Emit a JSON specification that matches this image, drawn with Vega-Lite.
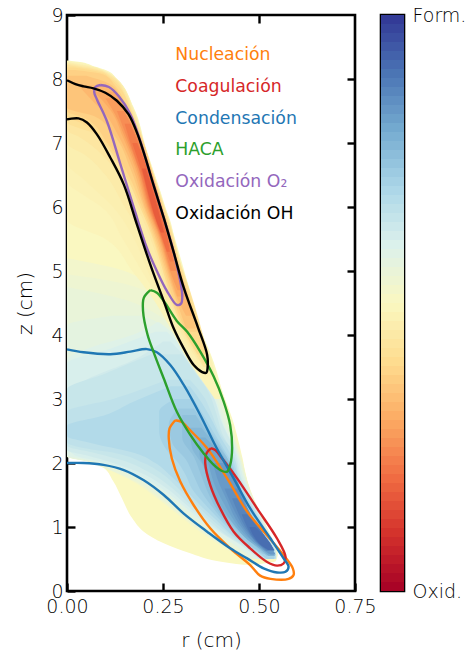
{
"$schema":"https://vega.github.io/schema/vega-lite/v6.json",
"padding":{"left":14,"top":4,"right":0,"bottom":0},
"config":{"view":{"stroke":"black","strokeWidth":2.6},"font":"DejaVu Sans","axis":{"grid":false,"domain":false,"labelFlush":false,"labelOverlap":false,"tickColor":"black","tickWidth":2.4,"labelColor":"#000000","titleColor":"#000000","labelFont":"DejaVu Sans","titleFont":"DejaVu Sans","labelFontWeight":200,"titleFontWeight":200,"labelFontSize":19,"titleFontSize":20}},
"datasets":{
"field":[
{"l":"a","v":0.0,"z":8.29,"a":0,"b":0},{"l":"a","v":0.0,"z":8.27,"a":0,"b":0.03},{"l":"a","v":0.0,"z":8.2,"a":0,"b":0.07},{"l":"a","v":0.0,"z":8.13,"a":0,"b":0.105},{"l":"a","v":0.0,"z":8.0,"a":0,"b":0.13},{"l":"a","v":0.0,"z":7.55,"a":0,"b":0.174},{"l":"a","v":0.0,"z":6.875,"a":0,"b":0.208},{"l":"a","v":0.0,"z":6.25,"a":0,"b":0.243},{"l":"a","v":0.0,"z":5.57,"a":0,"b":0.278},{"l":"a","v":0.0,"z":4.84,"a":0,"b":0.313},{"l":"a","v":0.0,"z":4.11,"a":0,"b":0.347},{"l":"a","v":0.0,"z":3.58,"a":0,"b":0.382},{"l":"a","v":0.0,"z":3.06,"a":0,"b":0.408},{"l":"a","v":0.0,"z":2.7,"a":0,"b":0.43},{"l":"a","v":0.0,"z":2.23,"a":0,"b":0.451},{"l":"a","v":0.0,"z":2.1,"a":0,"b":0.456},{"l":"a","v":0.0,"z":2.05,"a":0.04,"b":0.458},{"l":"a","v":0.0,"z":1.95,"a":0.09,"b":0.461},{"l":"a","v":0.0,"z":1.72,"a":0.12,"b":0.47},{"l":"a","v":0.0,"z":1.45,"a":0.143,"b":0.486},{"l":"a","v":0.0,"z":1.135,"a":0.17,"b":0.51},{"l":"a","v":0.0,"z":0.927,"a":0.2,"b":0.525},{"l":"a","v":0.0,"z":0.745,"a":0.252,"b":0.54},{"l":"a","v":0.0,"z":0.589,"a":0.321,"b":0.549},{"l":"a","v":0.0,"z":0.47,"a":0.39,"b":0.544},{"l":"a","v":0.0,"z":0.41,"a":0.46,"b":0.48},
{"l":"b","v":0.05,"z":5.2,"a":0,"b":0},{"l":"b","v":0.05,"z":5.0,"a":0,"b":0.15},{"l":"b","v":0.05,"z":4.6,"a":0,"b":0.24},{"l":"b","v":0.05,"z":4.2,"a":0,"b":0.275},{"l":"b","v":0.05,"z":3.9,"a":0,"b":0.3},{"l":"b","v":0.05,"z":3.6,"a":0,"b":0.335},{"l":"b","v":0.05,"z":3.3,"a":0,"b":0.385},{"l":"b","v":0.05,"z":3.06,"a":0,"b":0.402},{"l":"b","v":0.05,"z":2.7,"a":0,"b":0.425},{"l":"b","v":0.05,"z":2.23,"a":0,"b":0.447},{"l":"b","v":0.05,"z":2.1,"a":0,"b":0.454},{"l":"b","v":0.05,"z":2.05,"a":0.04,"b":0.456},{"l":"b","v":0.05,"z":1.95,"a":0.085,"b":0.46},{"l":"b","v":0.05,"z":1.7,"a":0.175,"b":0.47},{"l":"b","v":0.05,"z":1.45,"a":0.235,"b":0.485},{"l":"b","v":0.05,"z":1.14,"a":0.3,"b":0.51},{"l":"b","v":0.05,"z":0.93,"a":0.345,"b":0.525},{"l":"b","v":0.05,"z":0.75,"a":0.39,"b":0.54},{"l":"b","v":0.05,"z":0.6,"a":0.43,"b":0.548},{"l":"b","v":0.05,"z":0.5,"a":0.46,"b":0.546},
{"l":"b1","v":0.08,"z":4.95,"a":0,"b":0},{"l":"b1","v":0.08,"z":4.8,"a":0,"b":0.15},{"l":"b1","v":0.08,"z":4.5,"a":0,"b":0.245},{"l":"b1","v":0.08,"z":4.1,"a":0,"b":0.28},{"l":"b1","v":0.08,"z":3.8,"a":0,"b":0.31},{"l":"b1","v":0.08,"z":3.5,"a":0,"b":0.35},{"l":"b1","v":0.08,"z":3.18,"a":0,"b":0.39},{"l":"b1","v":0.08,"z":2.7,"a":0,"b":0.421},{"l":"b1","v":0.08,"z":2.23,"a":0,"b":0.445},{"l":"b1","v":0.08,"z":2.1,"a":0,"b":0.452},{"l":"b1","v":0.08,"z":2.02,"a":0.06,"b":0.456},{"l":"b1","v":0.08,"z":1.92,"a":0.1,"b":0.46},{"l":"b1","v":0.08,"z":1.7,"a":0.18,"b":0.47},{"l":"b1","v":0.08,"z":1.45,"a":0.24,"b":0.485},{"l":"b1","v":0.08,"z":1.14,"a":0.305,"b":0.51},{"l":"b1","v":0.08,"z":0.93,"a":0.35,"b":0.525},{"l":"b1","v":0.08,"z":0.75,"a":0.395,"b":0.538},{"l":"b1","v":0.08,"z":0.6,"a":0.435,"b":0.546},{"l":"b1","v":0.08,"z":0.5,"a":0.465,"b":0.546},
{"l":"c","v":0.11,"z":4.75,"a":0,"b":0},{"l":"c","v":0.11,"z":4.6,"a":0,"b":0.12},{"l":"c","v":0.11,"z":4.3,"a":0,"b":0.24},{"l":"c","v":0.11,"z":4.0,"a":0,"b":0.285},{"l":"c","v":0.11,"z":3.7,"a":0,"b":0.32},{"l":"c","v":0.11,"z":3.4,"a":0,"b":0.365},{"l":"c","v":0.11,"z":3.06,"a":0,"b":0.395},{"l":"c","v":0.11,"z":2.7,"a":0,"b":0.418},{"l":"c","v":0.11,"z":2.23,"a":0,"b":0.443},{"l":"c","v":0.11,"z":2.1,"a":0,"b":0.45},{"l":"c","v":0.11,"z":2.0,"a":0.07,"b":0.455},{"l":"c","v":0.11,"z":1.9,"a":0.11,"b":0.46},{"l":"c","v":0.11,"z":1.7,"a":0.185,"b":0.468},{"l":"c","v":0.11,"z":1.45,"a":0.245,"b":0.482},{"l":"c","v":0.11,"z":1.14,"a":0.31,"b":0.505},{"l":"c","v":0.11,"z":0.93,"a":0.355,"b":0.52},{"l":"c","v":0.11,"z":0.75,"a":0.4,"b":0.535},{"l":"c","v":0.11,"z":0.6,"a":0.44,"b":0.545},{"l":"c","v":0.11,"z":0.5,"a":0.47,"b":0.545},
{"l":"c1","v":0.145,"z":4.3,"a":0.12,"b":0.2},{"l":"c1","v":0.145,"z":4.15,"a":0,"b":0.25},{"l":"c1","v":0.145,"z":4.0,"a":0,"b":0.282},{"l":"c1","v":0.145,"z":3.75,"a":0,"b":0.315},{"l":"c1","v":0.145,"z":3.45,"a":0,"b":0.357},{"l":"c1","v":0.145,"z":3.03,"a":0,"b":0.392},{"l":"c1","v":0.145,"z":2.65,"a":0,"b":0.414},{"l":"c1","v":0.145,"z":2.25,"a":0,"b":0.44},{"l":"c1","v":0.145,"z":2.11,"a":0,"b":0.447},{"l":"c1","v":0.145,"z":2.02,"a":0.07,"b":0.452},{"l":"c1","v":0.145,"z":1.92,"a":0.12,"b":0.456},{"l":"c1","v":0.145,"z":1.75,"a":0.185,"b":0.464},{"l":"c1","v":0.145,"z":1.52,"a":0.25,"b":0.477},{"l":"c1","v":0.145,"z":1.22,"a":0.31,"b":0.5},{"l":"c1","v":0.145,"z":1.0,"a":0.36,"b":0.518},{"l":"c1","v":0.145,"z":0.82,"a":0.41,"b":0.533},{"l":"c1","v":0.145,"z":0.66,"a":0.45,"b":0.543},{"l":"c1","v":0.145,"z":0.52,"a":0.48,"b":0.544},
{"l":"d","v":0.18,"z":4.2,"a":0.235,"b":0.24},{"l":"d","v":0.18,"z":4.0,"a":0.17,"b":0.28},{"l":"d","v":0.18,"z":3.8,"a":0.06,"b":0.305},{"l":"d","v":0.18,"z":3.6,"a":0,"b":0.33},{"l":"d","v":0.18,"z":3.3,"a":0,"b":0.365},{"l":"d","v":0.18,"z":3.0,"a":0,"b":0.388},{"l":"d","v":0.18,"z":2.6,"a":0,"b":0.41},{"l":"d","v":0.18,"z":2.3,"a":0,"b":0.435},{"l":"d","v":0.18,"z":2.12,"a":0,"b":0.445},{"l":"d","v":0.18,"z":2.05,"a":0.05,"b":0.45},{"l":"d","v":0.18,"z":1.95,"a":0.11,"b":0.453},{"l":"d","v":0.18,"z":1.8,"a":0.18,"b":0.46},{"l":"d","v":0.18,"z":1.6,"a":0.24,"b":0.472},{"l":"d","v":0.18,"z":1.35,"a":0.295,"b":0.49},{"l":"d","v":0.18,"z":1.1,"a":0.345,"b":0.51},{"l":"d","v":0.18,"z":0.9,"a":0.39,"b":0.524},{"l":"d","v":0.18,"z":0.75,"a":0.43,"b":0.535},{"l":"d","v":0.18,"z":0.6,"a":0.465,"b":0.544},{"l":"d","v":0.18,"z":0.5,"a":0.49,"b":0.544},
{"l":"d1","v":0.215,"z":4.05,"a":0.23,"b":0.26},{"l":"d1","v":0.215,"z":3.8,"a":0.12,"b":0.3},{"l":"d1","v":0.215,"z":3.55,"a":0,"b":0.325},{"l":"d1","v":0.215,"z":3.25,"a":0,"b":0.36},{"l":"d1","v":0.215,"z":2.9,"a":0,"b":0.39},{"l":"d1","v":0.215,"z":2.55,"a":0,"b":0.41},{"l":"d1","v":0.215,"z":2.28,"a":0,"b":0.433},{"l":"d1","v":0.215,"z":2.12,"a":0.02,"b":0.443},{"l":"d1","v":0.215,"z":2.03,"a":0.08,"b":0.448},{"l":"d1","v":0.215,"z":1.92,"a":0.14,"b":0.452},{"l":"d1","v":0.215,"z":1.72,"a":0.215,"b":0.461},{"l":"d1","v":0.215,"z":1.5,"a":0.27,"b":0.475},{"l":"d1","v":0.215,"z":1.25,"a":0.32,"b":0.495},{"l":"d1","v":0.215,"z":1.0,"a":0.375,"b":0.514},{"l":"d1","v":0.215,"z":0.82,"a":0.425,"b":0.53},{"l":"d1","v":0.215,"z":0.65,"a":0.47,"b":0.54},{"l":"d1","v":0.215,"z":0.52,"a":0.495,"b":0.543},
{"l":"e","v":0.25,"z":3.9,"a":0.25,"b":0.27},{"l":"e","v":0.25,"z":3.6,"a":0.17,"b":0.315},{"l":"e","v":0.25,"z":3.3,"a":0.05,"b":0.35},{"l":"e","v":0.25,"z":3.1,"a":0,"b":0.375},{"l":"e","v":0.25,"z":2.6,"a":0,"b":0.405},{"l":"e","v":0.25,"z":2.35,"a":0,"b":0.425},{"l":"e","v":0.25,"z":2.2,"a":0,"b":0.435},{"l":"e","v":0.25,"z":2.12,"a":0.05,"b":0.44},{"l":"e","v":0.25,"z":2.0,"a":0.12,"b":0.445},{"l":"e","v":0.25,"z":1.85,"a":0.19,"b":0.45},{"l":"e","v":0.25,"z":1.6,"a":0.26,"b":0.465},{"l":"e","v":0.25,"z":1.35,"a":0.31,"b":0.485},{"l":"e","v":0.25,"z":1.1,"a":0.36,"b":0.507},{"l":"e","v":0.25,"z":0.9,"a":0.405,"b":0.522},{"l":"e","v":0.25,"z":0.75,"a":0.445,"b":0.534},{"l":"e","v":0.25,"z":0.6,"a":0.48,"b":0.543},{"l":"e","v":0.25,"z":0.5,"a":0.5,"b":0.544},
{"l":"e1","v":0.285,"z":3.7,"a":0.22,"b":0.3},{"l":"e1","v":0.285,"z":3.4,"a":0.1,"b":0.335},{"l":"e1","v":0.285,"z":3.15,"a":0,"b":0.365},{"l":"e1","v":0.285,"z":2.75,"a":0,"b":0.39},{"l":"e1","v":0.285,"z":2.45,"a":0,"b":0.405},{"l":"e1","v":0.285,"z":2.27,"a":0,"b":0.422},{"l":"e1","v":0.285,"z":2.16,"a":0.07,"b":0.432},{"l":"e1","v":0.285,"z":2.03,"a":0.15,"b":0.44},{"l":"e1","v":0.285,"z":1.85,"a":0.215,"b":0.447},{"l":"e1","v":0.285,"z":1.6,"a":0.275,"b":0.463},{"l":"e1","v":0.285,"z":1.35,"a":0.32,"b":0.482},{"l":"e1","v":0.285,"z":1.1,"a":0.37,"b":0.505},{"l":"e1","v":0.285,"z":0.9,"a":0.41,"b":0.52},{"l":"e1","v":0.285,"z":0.75,"a":0.45,"b":0.533},{"l":"e1","v":0.285,"z":0.6,"a":0.485,"b":0.544},{"l":"e1","v":0.285,"z":0.52,"a":0.505,"b":0.545},
{"l":"f","v":0.32,"z":3.3,"a":0.26,"b":0.32},{"l":"f","v":0.32,"z":3.0,"a":0.12,"b":0.36},{"l":"f","v":0.32,"z":2.8,"a":0,"b":0.375},{"l":"f","v":0.32,"z":2.45,"a":0,"b":0.4},{"l":"f","v":0.32,"z":2.32,"a":0,"b":0.415},{"l":"f","v":0.32,"z":2.25,"a":0.03,"b":0.425},{"l":"f","v":0.32,"z":2.15,"a":0.13,"b":0.43},{"l":"f","v":0.32,"z":2.0,"a":0.2,"b":0.44},{"l":"f","v":0.32,"z":1.8,"a":0.255,"b":0.445},{"l":"f","v":0.32,"z":1.6,"a":0.29,"b":0.46},{"l":"f","v":0.32,"z":1.35,"a":0.335,"b":0.48},{"l":"f","v":0.32,"z":1.1,"a":0.38,"b":0.503},{"l":"f","v":0.32,"z":0.9,"a":0.42,"b":0.518},{"l":"f","v":0.32,"z":0.75,"a":0.455,"b":0.532},{"l":"f","v":0.32,"z":0.6,"a":0.49,"b":0.542},{"l":"f","v":0.32,"z":0.5,"a":0.51,"b":0.544},
{"l":"f1","v":0.37,"z":3.2,"a":0.27,"b":0.32},{"l":"f1","v":0.37,"z":2.95,"a":0.17,"b":0.35},{"l":"f1","v":0.37,"z":2.75,"a":0.1,"b":0.37},{"l":"f1","v":0.37,"z":2.58,"a":0,"b":0.385},{"l":"f1","v":0.37,"z":2.42,"a":0,"b":0.398},{"l":"f1","v":0.37,"z":2.3,"a":0.07,"b":0.41},{"l":"f1","v":0.37,"z":2.15,"a":0.18,"b":0.425},{"l":"f1","v":0.37,"z":2.0,"a":0.23,"b":0.435},{"l":"f1","v":0.37,"z":1.8,"a":0.27,"b":0.445},{"l":"f1","v":0.37,"z":1.6,"a":0.305,"b":0.458},{"l":"f1","v":0.37,"z":1.35,"a":0.345,"b":0.478},{"l":"f1","v":0.37,"z":1.1,"a":0.39,"b":0.5},{"l":"f1","v":0.37,"z":0.9,"a":0.425,"b":0.515},{"l":"f1","v":0.37,"z":0.75,"a":0.46,"b":0.53},{"l":"f1","v":0.37,"z":0.6,"a":0.495,"b":0.54},{"l":"f1","v":0.37,"z":0.52,"a":0.515,"b":0.543},
{"l":"g","v":0.42,"z":3.0,"a":0.28,"b":0.33},{"l":"g","v":0.42,"z":2.8,"a":0.24,"b":0.35},{"l":"g","v":0.42,"z":2.5,"a":0.24,"b":0.38},{"l":"g","v":0.42,"z":2.2,"a":0.26,"b":0.41},{"l":"g","v":0.42,"z":2.0,"a":0.29,"b":0.43},{"l":"g","v":0.42,"z":1.8,"a":0.31,"b":0.44},{"l":"g","v":0.42,"z":1.6,"a":0.325,"b":0.453},{"l":"g","v":0.42,"z":1.35,"a":0.36,"b":0.47},{"l":"g","v":0.42,"z":1.1,"a":0.4,"b":0.495},{"l":"g","v":0.42,"z":0.9,"a":0.435,"b":0.51},{"l":"g","v":0.42,"z":0.75,"a":0.465,"b":0.525},{"l":"g","v":0.42,"z":0.6,"a":0.5,"b":0.537},{"l":"g","v":0.42,"z":0.5,"a":0.52,"b":0.54},
{"l":"g1","v":0.46,"z":2.85,"a":0.29,"b":0.33},{"l":"g1","v":0.46,"z":2.6,"a":0.265,"b":0.36},{"l":"g1","v":0.46,"z":2.3,"a":0.275,"b":0.395},{"l":"g1","v":0.46,"z":2.05,"a":0.31,"b":0.42},{"l":"g1","v":0.46,"z":1.8,"a":0.33,"b":0.44},{"l":"g1","v":0.46,"z":1.55,"a":0.35,"b":0.453},{"l":"g1","v":0.46,"z":1.3,"a":0.38,"b":0.47},{"l":"g1","v":0.46,"z":1.05,"a":0.415,"b":0.495},{"l":"g1","v":0.46,"z":0.85,"a":0.45,"b":0.51},{"l":"g1","v":0.46,"z":0.7,"a":0.48,"b":0.525},{"l":"g1","v":0.46,"z":0.58,"a":0.51,"b":0.538},
{"l":"h","v":0.5,"z":2.75,"a":0.3,"b":0.335},{"l":"h","v":0.5,"z":2.4,"a":0.3,"b":0.375},{"l":"h","v":0.5,"z":2.1,"a":0.33,"b":0.415},{"l":"h","v":0.5,"z":1.8,"a":0.35,"b":0.435},{"l":"h","v":0.5,"z":1.5,"a":0.37,"b":0.452},{"l":"h","v":0.5,"z":1.2,"a":0.4,"b":0.475},{"l":"h","v":0.5,"z":1.0,"a":0.435,"b":0.495},{"l":"h","v":0.5,"z":0.8,"a":0.47,"b":0.515},{"l":"h","v":0.5,"z":0.65,"a":0.5,"b":0.53},{"l":"h","v":0.5,"z":0.55,"a":0.52,"b":0.54},
{"l":"h1","v":0.54,"z":2.55,"a":0.32,"b":0.35},{"l":"h1","v":0.54,"z":2.25,"a":0.325,"b":0.39},{"l":"h1","v":0.54,"z":1.95,"a":0.355,"b":0.425},{"l":"h1","v":0.54,"z":1.65,"a":0.37,"b":0.447},{"l":"h1","v":0.54,"z":1.35,"a":0.39,"b":0.465},{"l":"h1","v":0.54,"z":1.1,"a":0.425,"b":0.487},{"l":"h1","v":0.54,"z":0.9,"a":0.455,"b":0.507},{"l":"h1","v":0.54,"z":0.72,"a":0.49,"b":0.525},{"l":"h1","v":0.54,"z":0.58,"a":0.52,"b":0.54},
{"l":"i","v":0.58,"z":2.4,"a":0.345,"b":0.36},{"l":"i","v":0.58,"z":2.15,"a":0.345,"b":0.4},{"l":"i","v":0.58,"z":1.85,"a":0.365,"b":0.432},{"l":"i","v":0.58,"z":1.55,"a":0.38,"b":0.452},{"l":"i","v":0.58,"z":1.25,"a":0.41,"b":0.472},{"l":"i","v":0.58,"z":1.0,"a":0.44,"b":0.495},{"l":"i","v":0.58,"z":0.8,"a":0.47,"b":0.517},{"l":"i","v":0.58,"z":0.65,"a":0.505,"b":0.532},{"l":"i","v":0.58,"z":0.55,"a":0.525,"b":0.542},
{"l":"i1","v":0.62,"z":2.2,"a":0.36,"b":0.385},{"l":"i1","v":0.62,"z":1.95,"a":0.37,"b":0.425},{"l":"i1","v":0.62,"z":1.65,"a":0.385,"b":0.447},{"l":"i1","v":0.62,"z":1.35,"a":0.41,"b":0.465},{"l":"i1","v":0.62,"z":1.1,"a":0.435,"b":0.487},{"l":"i1","v":0.62,"z":0.9,"a":0.46,"b":0.508},{"l":"i1","v":0.62,"z":0.72,"a":0.495,"b":0.528},{"l":"i1","v":0.62,"z":0.58,"a":0.525,"b":0.542},
{"l":"j","v":0.66,"z":2.0,"a":0.38,"b":0.41},{"l":"j","v":0.66,"z":1.7,"a":0.395,"b":0.445},{"l":"j","v":0.66,"z":1.4,"a":0.418,"b":0.463},{"l":"j","v":0.66,"z":1.15,"a":0.437,"b":0.483},{"l":"j","v":0.66,"z":0.95,"a":0.46,"b":0.505},{"l":"j","v":0.66,"z":0.8,"a":0.48,"b":0.52},{"l":"j","v":0.66,"z":0.65,"a":0.51,"b":0.535},{"l":"j","v":0.66,"z":0.57,"a":0.53,"b":0.543},
{"l":"j1","v":0.7,"z":1.6,"a":0.41,"b":0.445},{"l":"j1","v":0.7,"z":1.35,"a":0.428,"b":0.463},{"l":"j1","v":0.7,"z":1.15,"a":0.445,"b":0.482},{"l":"j1","v":0.7,"z":0.95,"a":0.465,"b":0.505},{"l":"j1","v":0.7,"z":0.78,"a":0.49,"b":0.523},{"l":"j1","v":0.7,"z":0.63,"a":0.517,"b":0.54},
{"l":"k","v":0.74,"z":1.45,"a":0.43,"b":0.45},{"l":"k","v":0.74,"z":1.3,"a":0.44,"b":0.463},{"l":"k","v":0.74,"z":1.1,"a":0.455,"b":0.485},{"l":"k","v":0.74,"z":0.9,"a":0.475,"b":0.51},{"l":"k","v":0.74,"z":0.75,"a":0.495,"b":0.527},{"l":"k","v":0.74,"z":0.63,"a":0.52,"b":0.54},
{"l":"k1","v":0.78,"z":1.2,"a":0.455,"b":0.47},{"l":"k1","v":0.78,"z":1.05,"a":0.465,"b":0.49},{"l":"k1","v":0.78,"z":0.88,"a":0.48,"b":0.513},{"l":"k1","v":0.78,"z":0.74,"a":0.5,"b":0.53},{"l":"k1","v":0.78,"z":0.64,"a":0.522,"b":0.54},
{"l":"m","v":0.82,"z":1.0,"a":0.475,"b":0.49},{"l":"m","v":0.82,"z":0.85,"a":0.487,"b":0.515},{"l":"m","v":0.82,"z":0.72,"a":0.505,"b":0.532},{"l":"m","v":0.82,"z":0.64,"a":0.525,"b":0.538},
{"l":"n","v":-0.03,"z":8.28,"a":0,"b":0},{"l":"n","v":-0.03,"z":8.26,"a":0,"b":0.03},{"l":"n","v":-0.03,"z":8.19,"a":0,"b":0.07},{"l":"n","v":-0.03,"z":8.12,"a":0,"b":0.105},{"l":"n","v":-0.03,"z":8.0,"a":0,"b":0.13},{"l":"n","v":-0.03,"z":7.55,"a":0,"b":0.173},{"l":"n","v":-0.03,"z":6.875,"a":0,"b":0.207},{"l":"n","v":-0.03,"z":6.25,"a":0,"b":0.242},{"l":"n","v":-0.03,"z":6.0,"a":0,"b":0.255},{"l":"n","v":-0.03,"z":5.8,"a":0,"b":0.268},{"l":"n","v":-0.03,"z":5.5,"a":0.1,"b":0.28},{"l":"n","v":-0.03,"z":5.0,"a":0.17,"b":0.3},{"l":"n","v":-0.03,"z":4.6,"a":0.22,"b":0.318},{"l":"n","v":-0.03,"z":4.1,"a":0.27,"b":0.345},{"l":"n","v":-0.03,"z":3.6,"a":0.315,"b":0.378},{"l":"n","v":-0.03,"z":3.3,"a":0.35,"b":0.39},{"l":"n","v":-0.03,"z":3.0,"a":0.385,"b":0.4},
{"l":"n1","v":-0.05,"z":8.27,"a":0,"b":0},{"l":"n1","v":-0.05,"z":8.2,"a":0,"b":0.065},{"l":"n1","v":-0.05,"z":8.12,"a":0,"b":0.1},{"l":"n1","v":-0.05,"z":8.0,"a":0,"b":0.13},{"l":"n1","v":-0.05,"z":7.55,"a":0,"b":0.172},{"l":"n1","v":-0.05,"z":6.875,"a":0,"b":0.206},{"l":"n1","v":-0.05,"z":6.4,"a":0,"b":0.232},{"l":"n1","v":-0.05,"z":6.2,"a":0.04,"b":0.243},{"l":"n1","v":-0.05,"z":6.0,"a":0.09,"b":0.253},{"l":"n1","v":-0.05,"z":5.5,"a":0.145,"b":0.279},{"l":"n1","v":-0.05,"z":5.0,"a":0.195,"b":0.3},{"l":"n1","v":-0.05,"z":4.6,"a":0.235,"b":0.318},{"l":"n1","v":-0.05,"z":4.1,"a":0.28,"b":0.345},{"l":"n1","v":-0.05,"z":3.6,"a":0.322,"b":0.376},{"l":"n1","v":-0.05,"z":3.3,"a":0.358,"b":0.388},
{"l":"o","v":-0.07,"z":8.26,"a":0,"b":0},{"l":"o","v":-0.07,"z":8.2,"a":0,"b":0.06},{"l":"o","v":-0.07,"z":8.1,"a":0,"b":0.105},{"l":"o","v":-0.07,"z":8.0,"a":0,"b":0.128},{"l":"o","v":-0.07,"z":7.55,"a":0,"b":0.171},{"l":"o","v":-0.07,"z":7.0,"a":0,"b":0.2},{"l":"o","v":-0.07,"z":6.7,"a":0,"b":0.215},{"l":"o","v":-0.07,"z":6.4,"a":0.05,"b":0.23},{"l":"o","v":-0.07,"z":6.0,"a":0.12,"b":0.252},{"l":"o","v":-0.07,"z":5.5,"a":0.175,"b":0.278},{"l":"o","v":-0.07,"z":5.0,"a":0.21,"b":0.298},{"l":"o","v":-0.07,"z":4.5,"a":0.25,"b":0.325},{"l":"o","v":-0.07,"z":4.0,"a":0.29,"b":0.35},{"l":"o","v":-0.07,"z":3.6,"a":0.33,"b":0.37},{"l":"o","v":-0.07,"z":3.35,"a":0.365,"b":0.375},
{"l":"o1","v":-0.1,"z":8.25,"a":0,"b":0},{"l":"o1","v":-0.1,"z":8.18,"a":0,"b":0.07},{"l":"o1","v":-0.1,"z":8.1,"a":0,"b":0.105},{"l":"o1","v":-0.1,"z":8.0,"a":0,"b":0.127},{"l":"o1","v":-0.1,"z":7.55,"a":0,"b":0.17},{"l":"o1","v":-0.1,"z":7.1,"a":0,"b":0.195},{"l":"o1","v":-0.1,"z":7.0,"a":0,"b":0.2},{"l":"o1","v":-0.1,"z":6.8,"a":0.05,"b":0.21},{"l":"o1","v":-0.1,"z":6.5,"a":0.1,"b":0.226},{"l":"o1","v":-0.1,"z":6.0,"a":0.15,"b":0.25},{"l":"o1","v":-0.1,"z":5.5,"a":0.2,"b":0.276},{"l":"o1","v":-0.1,"z":5.0,"a":0.23,"b":0.297},{"l":"o1","v":-0.1,"z":4.5,"a":0.26,"b":0.324},{"l":"o1","v":-0.1,"z":4.0,"a":0.3,"b":0.35},{"l":"o1","v":-0.1,"z":3.6,"a":0.34,"b":0.368},
{"l":"p","v":-0.13,"z":8.24,"a":0,"b":0},{"l":"p","v":-0.13,"z":8.15,"a":0,"b":0.08},{"l":"p","v":-0.13,"z":8.05,"a":0,"b":0.115},{"l":"p","v":-0.13,"z":7.8,"a":0,"b":0.15},{"l":"p","v":-0.13,"z":7.5,"a":0,"b":0.17},{"l":"p","v":-0.13,"z":7.2,"a":0,"b":0.19},{"l":"p","v":-0.13,"z":7.1,"a":0.03,"b":0.195},{"l":"p","v":-0.13,"z":6.7,"a":0.11,"b":0.215},{"l":"p","v":-0.13,"z":6.2,"a":0.165,"b":0.243},{"l":"p","v":-0.13,"z":5.7,"a":0.205,"b":0.27},{"l":"p","v":-0.13,"z":5.2,"a":0.235,"b":0.292},{"l":"p","v":-0.13,"z":4.7,"a":0.26,"b":0.32},{"l":"p","v":-0.13,"z":4.2,"a":0.29,"b":0.345},{"l":"p","v":-0.13,"z":3.8,"a":0.325,"b":0.362},{"l":"p","v":-0.13,"z":3.5,"a":0.355,"b":0.37},
{"l":"p1","v":-0.17,"z":8.22,"a":0,"b":0},{"l":"p1","v":-0.17,"z":8.13,"a":0,"b":0.085},{"l":"p1","v":-0.17,"z":8.03,"a":0,"b":0.115},{"l":"p1","v":-0.17,"z":7.7,"a":0,"b":0.155},{"l":"p1","v":-0.17,"z":7.4,"a":0,"b":0.175},{"l":"p1","v":-0.17,"z":7.33,"a":0,"b":0.18},{"l":"p1","v":-0.17,"z":7.15,"a":0.07,"b":0.192},{"l":"p1","v":-0.17,"z":6.7,"a":0.13,"b":0.214},{"l":"p1","v":-0.17,"z":6.2,"a":0.18,"b":0.241},{"l":"p1","v":-0.17,"z":5.7,"a":0.212,"b":0.268},{"l":"p1","v":-0.17,"z":5.2,"a":0.24,"b":0.29},{"l":"p1","v":-0.17,"z":4.7,"a":0.267,"b":0.318},{"l":"p1","v":-0.17,"z":4.2,"a":0.295,"b":0.343},{"l":"p1","v":-0.17,"z":3.8,"a":0.33,"b":0.36},{"l":"p1","v":-0.17,"z":3.55,"a":0.355,"b":0.367},
{"l":"q","v":-0.21,"z":8.18,"a":0,"b":0.02},{"l":"q","v":-0.21,"z":8.1,"a":0,"b":0.09},{"l":"q","v":-0.21,"z":8.0,"a":0,"b":0.115},{"l":"q","v":-0.21,"z":7.8,"a":0,"b":0.145},{"l":"q","v":-0.21,"z":7.6,"a":0,"b":0.16},{"l":"q","v":-0.21,"z":7.42,"a":0,"b":0.172},{"l":"q","v":-0.21,"z":7.3,"a":0.04,"b":0.178},{"l":"q","v":-0.21,"z":7.0,"a":0.095,"b":0.2},{"l":"q","v":-0.21,"z":6.5,"a":0.152,"b":0.225},{"l":"q","v":-0.21,"z":6.0,"a":0.19,"b":0.25},{"l":"q","v":-0.21,"z":5.5,"a":0.225,"b":0.275},{"l":"q","v":-0.21,"z":5.0,"a":0.25,"b":0.298},{"l":"q","v":-0.21,"z":4.5,"a":0.275,"b":0.325},{"l":"q","v":-0.21,"z":4.0,"a":0.31,"b":0.35},{"l":"q","v":-0.21,"z":3.7,"a":0.34,"b":0.36},
{"l":"q1","v":-0.25,"z":8.14,"a":0,"b":0.02},{"l":"q1","v":-0.25,"z":8.07,"a":0,"b":0.095},{"l":"q1","v":-0.25,"z":7.9,"a":0,"b":0.125},{"l":"q1","v":-0.25,"z":7.6,"a":0,"b":0.155},{"l":"q1","v":-0.25,"z":7.5,"a":0,"b":0.165},{"l":"q1","v":-0.25,"z":7.38,"a":0.05,"b":0.173},{"l":"q1","v":-0.25,"z":7.0,"a":0.105,"b":0.199},{"l":"q1","v":-0.25,"z":6.5,"a":0.16,"b":0.224},{"l":"q1","v":-0.25,"z":6.0,"a":0.195,"b":0.249},{"l":"q1","v":-0.25,"z":5.5,"a":0.228,"b":0.273},{"l":"q1","v":-0.25,"z":5.0,"a":0.254,"b":0.296},{"l":"q1","v":-0.25,"z":4.5,"a":0.28,"b":0.322},{"l":"q1","v":-0.25,"z":4.05,"a":0.31,"b":0.347},
{"l":"r","v":-0.3,"z":8.05,"a":0,"b":0.05},{"l":"r","v":-0.3,"z":7.9,"a":0,"b":0.118},{"l":"r","v":-0.3,"z":7.7,"a":0,"b":0.14},{"l":"r","v":-0.3,"z":7.55,"a":0,"b":0.155},{"l":"r","v":-0.3,"z":7.42,"a":0.07,"b":0.168},{"l":"r","v":-0.3,"z":7.1,"a":0.125,"b":0.19},{"l":"r","v":-0.3,"z":6.6,"a":0.165,"b":0.218},{"l":"r","v":-0.3,"z":6.0,"a":0.2,"b":0.248},{"l":"r","v":-0.3,"z":5.5,"a":0.232,"b":0.272},{"l":"r","v":-0.3,"z":5.0,"a":0.258,"b":0.295},{"l":"r","v":-0.3,"z":4.5,"a":0.287,"b":0.32},{"l":"r","v":-0.3,"z":4.1,"a":0.31,"b":0.335},
{"l":"r1","v":-0.35,"z":7.9,"a":0.03,"b":0.1},{"l":"r1","v":-0.35,"z":7.7,"a":0.06,"b":0.135},{"l":"r1","v":-0.35,"z":7.45,"a":0.1,"b":0.16},{"l":"r1","v":-0.35,"z":7.1,"a":0.135,"b":0.188},{"l":"r1","v":-0.35,"z":6.6,"a":0.172,"b":0.217},{"l":"r1","v":-0.35,"z":6.0,"a":0.203,"b":0.247},{"l":"r1","v":-0.35,"z":5.5,"a":0.236,"b":0.27},{"l":"r1","v":-0.35,"z":5.0,"a":0.262,"b":0.293},{"l":"r1","v":-0.35,"z":4.6,"a":0.285,"b":0.315},{"l":"r1","v":-0.35,"z":4.3,"a":0.31,"b":0.325},
{"l":"s","v":-0.4,"z":7.8,"a":0.07,"b":0.125},{"l":"s","v":-0.4,"z":7.5,"a":0.115,"b":0.155},{"l":"s","v":-0.4,"z":7.1,"a":0.145,"b":0.186},{"l":"s","v":-0.4,"z":6.6,"a":0.178,"b":0.216},{"l":"s","v":-0.4,"z":6.0,"a":0.207,"b":0.246},{"l":"s","v":-0.4,"z":5.5,"a":0.24,"b":0.269},{"l":"s","v":-0.4,"z":5.0,"a":0.265,"b":0.291},{"l":"s","v":-0.4,"z":4.6,"a":0.287,"b":0.31},
{"l":"s1","v":-0.45,"z":7.7,"a":0.1,"b":0.125},{"l":"s1","v":-0.45,"z":7.45,"a":0.125,"b":0.155},{"l":"s1","v":-0.45,"z":7.1,"a":0.15,"b":0.184},{"l":"s1","v":-0.45,"z":6.6,"a":0.182,"b":0.215},{"l":"s1","v":-0.45,"z":6.0,"a":0.21,"b":0.245},{"l":"s1","v":-0.45,"z":5.5,"a":0.243,"b":0.268},{"l":"s1","v":-0.45,"z":5.0,"a":0.268,"b":0.29},{"l":"s1","v":-0.45,"z":4.7,"a":0.288,"b":0.3},
{"l":"t","v":-0.5,"z":7.5,"a":0.13,"b":0.148},{"l":"t","v":-0.5,"z":7.1,"a":0.155,"b":0.182},{"l":"t","v":-0.5,"z":6.6,"a":0.186,"b":0.214},{"l":"t","v":-0.5,"z":6.0,"a":0.213,"b":0.243},{"l":"t","v":-0.5,"z":5.5,"a":0.245,"b":0.266},{"l":"t","v":-0.5,"z":5.0,"a":0.27,"b":0.285},
{"l":"t1","v":-0.55,"z":7.3,"a":0.15,"b":0.165},{"l":"t1","v":-0.55,"z":7.0,"a":0.165,"b":0.185},{"l":"t1","v":-0.55,"z":6.5,"a":0.193,"b":0.216},{"l":"t1","v":-0.55,"z":6.0,"a":0.216,"b":0.241},{"l":"t1","v":-0.55,"z":5.5,"a":0.247,"b":0.264},{"l":"t1","v":-0.55,"z":5.15,"a":0.268,"b":0.278},
{"l":"u","v":-0.6,"z":7.0,"a":0.17,"b":0.183},{"l":"u","v":-0.6,"z":6.5,"a":0.197,"b":0.215},{"l":"u","v":-0.6,"z":6.0,"a":0.219,"b":0.239},{"l":"u","v":-0.6,"z":5.5,"a":0.249,"b":0.262},{"l":"u","v":-0.6,"z":5.3,"a":0.26,"b":0.268},
{"l":"w","v":-0.66,"z":6.6,"a":0.195,"b":0.205},{"l":"w","v":-0.66,"z":6.2,"a":0.212,"b":0.226},{"l":"w","v":-0.66,"z":5.9,"a":0.226,"b":0.24},{"l":"w","v":-0.66,"z":5.6,"a":0.244,"b":0.253}
],
"contours":[
{"s":"Nucleación","i":1,"r":0.282,"z":2.667},{"s":"Nucleación","i":2,"r":0.267,"z":2.54},{"s":"Nucleación","i":3,"r":0.265,"z":2.385},{"s":"Nucleación","i":4,"r":0.273,"z":2.07},{"s":"Nucleación","i":5,"r":0.295,"z":1.71},{"s":"Nucleación","i":6,"r":0.33,"z":1.34},{"s":"Nucleación","i":7,"r":0.373,"z":0.98},{"s":"Nucleación","i":8,"r":0.425,"z":0.667},{"s":"Nucleación","i":9,"r":0.477,"z":0.406},{"s":"Nucleación","i":10,"r":0.503,"z":0.24},{"s":"Nucleación","i":11,"r":0.53,"z":0.19},{"s":"Nucleación","i":12,"r":0.577,"z":0.19},{"s":"Nucleación","i":13,"r":0.59,"z":0.25},{"s":"Nucleación","i":14,"r":0.588,"z":0.354},{"s":"Nucleación","i":15,"r":0.564,"z":0.56},{"s":"Nucleación","i":16,"r":0.52,"z":0.875},{"s":"Nucleación","i":17,"r":0.469,"z":1.24},{"s":"Nucleación","i":18,"r":0.417,"z":1.76},{"s":"Nucleación","i":19,"r":0.365,"z":2.23},{"s":"Nucleación","i":20,"r":0.321,"z":2.51},{"s":"Nucleación","i":21,"r":0.299,"z":2.64},{"s":"Nucleación","i":22,"r":0.282,"z":2.667},
{"s":"Coagulación","i":1,"r":0.375,"z":2.23},{"s":"Coagulación","i":2,"r":0.363,"z":2.15},{"s":"Coagulación","i":3,"r":0.36,"z":1.995},{"s":"Coagulación","i":4,"r":0.373,"z":1.656},{"s":"Coagulación","i":5,"r":0.399,"z":1.29},{"s":"Coagulación","i":6,"r":0.434,"z":0.927},{"s":"Coagulación","i":7,"r":0.477,"z":0.667},{"s":"Coagulación","i":8,"r":0.52,"z":0.458},{"s":"Coagulación","i":9,"r":0.547,"z":0.396},{"s":"Coagulación","i":10,"r":0.564,"z":0.43},{"s":"Coagulación","i":11,"r":0.569,"z":0.536},{"s":"Coagulación","i":12,"r":0.547,"z":0.82},{"s":"Coagulación","i":13,"r":0.495,"z":1.29},{"s":"Coagulación","i":14,"r":0.443,"z":1.76},{"s":"Coagulación","i":15,"r":0.404,"z":2.07},{"s":"Coagulación","i":16,"r":0.387,"z":2.2},{"s":"Coagulación","i":17,"r":0.375,"z":2.23},
{"s":"Condensación","i":1,"r":0,"z":3.776},{"s":"Condensación","i":2,"r":0.043,"z":3.73},{"s":"Condensación","i":3,"r":0.113,"z":3.7},{"s":"Condensación","i":4,"r":0.165,"z":3.74},{"s":"Condensación","i":5,"r":0.208,"z":3.78},{"s":"Condensación","i":6,"r":0.234,"z":3.73},{"s":"Condensación","i":7,"r":0.269,"z":3.53},{"s":"Condensación","i":8,"r":0.304,"z":3.22},{"s":"Condensación","i":9,"r":0.347,"z":2.75},{"s":"Condensación","i":10,"r":0.39,"z":2.23},{"s":"Condensación","i":11,"r":0.434,"z":1.76},{"s":"Condensación","i":12,"r":0.477,"z":1.29},{"s":"Condensación","i":13,"r":0.53,"z":0.82},{"s":"Condensación","i":14,"r":0.564,"z":0.51},{"s":"Condensación","i":15,"r":0.577,"z":0.38},{"s":"Condensación","i":16,"r":0.569,"z":0.3},{"s":"Condensación","i":17,"r":0.547,"z":0.29},{"s":"Condensación","i":18,"r":0.512,"z":0.354},{"s":"Condensación","i":19,"r":0.469,"z":0.51},{"s":"Condensación","i":20,"r":0.425,"z":0.667},{"s":"Condensación","i":21,"r":0.365,"z":0.927},{"s":"Condensación","i":22,"r":0.304,"z":1.21},{"s":"Condensación","i":23,"r":0.252,"z":1.5},{"s":"Condensación","i":24,"r":0.2,"z":1.73},{"s":"Condensación","i":25,"r":0.148,"z":1.89},{"s":"Condensación","i":26,"r":0.095,"z":1.97},{"s":"Condensación","i":27,"r":0.043,"z":2.0},{"s":"Condensación","i":28,"r":0,"z":2.0},
{"s":"HACA","i":1,"r":0.217,"z":4.7},{"s":"HACA","i":2,"r":0.2,"z":4.58},{"s":"HACA","i":3,"r":0.198,"z":4.375},{"s":"HACA","i":4,"r":0.21,"z":4.0},{"s":"HACA","i":5,"r":0.227,"z":3.71},{"s":"HACA","i":6,"r":0.252,"z":3.32},{"s":"HACA","i":7,"r":0.286,"z":2.8},{"s":"HACA","i":8,"r":0.321,"z":2.44},{"s":"HACA","i":9,"r":0.356,"z":2.15},{"s":"HACA","i":10,"r":0.382,"z":1.97},{"s":"HACA","i":11,"r":0.404,"z":1.875},{"s":"HACA","i":12,"r":0.417,"z":1.865},{"s":"HACA","i":13,"r":0.425,"z":1.97},{"s":"HACA","i":14,"r":0.43,"z":2.23},{"s":"HACA","i":15,"r":0.425,"z":2.59},{"s":"HACA","i":16,"r":0.408,"z":2.96},{"s":"HACA","i":17,"r":0.382,"z":3.35},{"s":"HACA","i":18,"r":0.347,"z":3.74},{"s":"HACA","i":19,"r":0.313,"z":4.05},{"s":"HACA","i":20,"r":0.286,"z":4.22},{"s":"HACA","i":21,"r":0.252,"z":4.53},{"s":"HACA","i":22,"r":0.234,"z":4.66},{"s":"HACA","i":23,"r":0.217,"z":4.7},
{"s":"Oxidación O₂","i":1,"r":0.087,"z":7.906},{"s":"Oxidación O₂","i":2,"r":0.109,"z":7.875},{"s":"Oxidación O₂","i":3,"r":0.135,"z":7.73},{"s":"Oxidación O₂","i":4,"r":0.165,"z":7.45},{"s":"Oxidación O₂","i":5,"r":0.191,"z":7.03},{"s":"Oxidación O₂","i":6,"r":0.217,"z":6.51},{"s":"Oxidación O₂","i":7,"r":0.252,"z":5.83},{"s":"Oxidación O₂","i":8,"r":0.278,"z":5.29},{"s":"Oxidación O₂","i":9,"r":0.3,"z":4.635},{"s":"Oxidación O₂","i":10,"r":0.297,"z":4.49},{"s":"Oxidación O₂","i":11,"r":0.286,"z":4.47},{"s":"Oxidación O₂","i":12,"r":0.26,"z":4.69},{"s":"Oxidación O₂","i":13,"r":0.234,"z":5.0},{"s":"Oxidación O₂","i":14,"r":0.208,"z":5.36},{"s":"Oxidación O₂","i":15,"r":0.174,"z":5.99},{"s":"Oxidación O₂","i":16,"r":0.139,"z":6.67},{"s":"Oxidación O₂","i":17,"r":0.104,"z":7.34},{"s":"Oxidación O₂","i":18,"r":0.078,"z":7.68},{"s":"Oxidación O₂","i":19,"r":0.071,"z":7.79},{"s":"Oxidación O₂","i":20,"r":0.074,"z":7.875},{"s":"Oxidación O₂","i":21,"r":0.087,"z":7.906},
{"s":"Oxidación OH","i":1,"r":0,"z":7.98},{"s":"Oxidación OH","i":2,"r":0.022,"z":7.92},{"s":"Oxidación OH","i":3,"r":0.043,"z":7.885},{"s":"Oxidación OH","i":4,"r":0.069,"z":7.854},{"s":"Oxidación OH","i":5,"r":0.1,"z":7.786},{"s":"Oxidación OH","i":6,"r":0.13,"z":7.66},{"s":"Oxidación OH","i":7,"r":0.16,"z":7.45},{"s":"Oxidación OH","i":8,"r":0.184,"z":7.135},{"s":"Oxidación OH","i":9,"r":0.204,"z":6.77},{"s":"Oxidación OH","i":10,"r":0.226,"z":6.33},{"s":"Oxidación OH","i":11,"r":0.252,"z":5.83},{"s":"Oxidación OH","i":12,"r":0.278,"z":5.29},{"s":"Oxidación OH","i":13,"r":0.304,"z":4.74},{"s":"Oxidación OH","i":14,"r":0.341,"z":4.12},{"s":"Oxidación OH","i":15,"r":0.365,"z":3.69},{"s":"Oxidación OH","i":16,"r":0.366,"z":3.48},{"s":"Oxidación OH","i":17,"r":0.363,"z":3.41},{"s":"Oxidación OH","i":18,"r":0.352,"z":3.42},{"s":"Oxidación OH","i":19,"r":0.33,"z":3.53},{"s":"Oxidación OH","i":20,"r":0.304,"z":3.79},{"s":"Oxidación OH","i":21,"r":0.278,"z":4.1},{"s":"Oxidación OH","i":22,"r":0.252,"z":4.53},{"s":"Oxidación OH","i":23,"r":0.217,"z":5.1},{"s":"Oxidación OH","i":24,"r":0.182,"z":5.73},{"s":"Oxidación OH","i":25,"r":0.148,"z":6.35},{"s":"Oxidación OH","i":26,"r":0.113,"z":6.77},{"s":"Oxidación OH","i":27,"r":0.078,"z":7.135},{"s":"Oxidación OH","i":28,"r":0.052,"z":7.32},{"s":"Oxidación OH","i":29,"r":0.03,"z":7.385},{"s":"Oxidación OH","i":30,"r":0,"z":7.37}
],
"labels":[
{"s":"Nucleación","r":0.282,"z":8.375},{"s":"Coagulación","r":0.282,"z":7.875},{"s":"Condensación","r":0.282,"z":7.375},{"s":"HACA","r":0.282,"z":6.89},{"s":"Oxidación O₂","r":0.282,"z":6.39},{"s":"Oxidación OH","r":0.282,"z":5.89}
],
"bar":[
{"y":-1,"y2":-0.96875,"c":-0.984},{"y":-0.96875,"y2":-0.9375,"c":-0.953},{"y":-0.9375,"y2":-0.90625,"c":-0.922},{"y":-0.90625,"y2":-0.875,"c":-0.891},{"y":-0.875,"y2":-0.84375,"c":-0.859},{"y":-0.84375,"y2":-0.8125,"c":-0.828},{"y":-0.8125,"y2":-0.78125,"c":-0.797},{"y":-0.78125,"y2":-0.75,"c":-0.766},{"y":-0.75,"y2":-0.71875,"c":-0.734},{"y":-0.71875,"y2":-0.6875,"c":-0.703},{"y":-0.6875,"y2":-0.65625,"c":-0.672},{"y":-0.65625,"y2":-0.625,"c":-0.641},{"y":-0.625,"y2":-0.59375,"c":-0.609},{"y":-0.59375,"y2":-0.5625,"c":-0.578},{"y":-0.5625,"y2":-0.53125,"c":-0.547},{"y":-0.53125,"y2":-0.5,"c":-0.516},{"y":-0.5,"y2":-0.46875,"c":-0.484},{"y":-0.46875,"y2":-0.4375,"c":-0.453},{"y":-0.4375,"y2":-0.40625,"c":-0.422},{"y":-0.40625,"y2":-0.375,"c":-0.391},{"y":-0.375,"y2":-0.34375,"c":-0.359},{"y":-0.34375,"y2":-0.3125,"c":-0.328},{"y":-0.3125,"y2":-0.28125,"c":-0.297},{"y":-0.28125,"y2":-0.25,"c":-0.266},{"y":-0.25,"y2":-0.21875,"c":-0.234},{"y":-0.21875,"y2":-0.1875,"c":-0.203},{"y":-0.1875,"y2":-0.15625,"c":-0.172},{"y":-0.15625,"y2":-0.125,"c":-0.141},{"y":-0.125,"y2":-0.09375,"c":-0.109},{"y":-0.09375,"y2":-0.0625,"c":-0.078},{"y":-0.0625,"y2":-0.03125,"c":-0.047},{"y":-0.03125,"y2":0,"c":-0.016},
{"y":0,"y2":0.03125,"c":0.016},{"y":0.03125,"y2":0.0625,"c":0.047},{"y":0.0625,"y2":0.09375,"c":0.078},{"y":0.09375,"y2":0.125,"c":0.109},{"y":0.125,"y2":0.15625,"c":0.141},{"y":0.15625,"y2":0.1875,"c":0.172},{"y":0.1875,"y2":0.21875,"c":0.203},{"y":0.21875,"y2":0.25,"c":0.234},{"y":0.25,"y2":0.28125,"c":0.266},{"y":0.28125,"y2":0.3125,"c":0.297},{"y":0.3125,"y2":0.34375,"c":0.328},{"y":0.34375,"y2":0.375,"c":0.359},{"y":0.375,"y2":0.40625,"c":0.391},{"y":0.40625,"y2":0.4375,"c":0.422},{"y":0.4375,"y2":0.46875,"c":0.453},{"y":0.46875,"y2":0.5,"c":0.484},{"y":0.5,"y2":0.53125,"c":0.516},{"y":0.53125,"y2":0.5625,"c":0.547},{"y":0.5625,"y2":0.59375,"c":0.578},{"y":0.59375,"y2":0.625,"c":0.609},{"y":0.625,"y2":0.65625,"c":0.641},{"y":0.65625,"y2":0.6875,"c":0.672},{"y":0.6875,"y2":0.71875,"c":0.703},{"y":0.71875,"y2":0.75,"c":0.734},{"y":0.75,"y2":0.78125,"c":0.766},{"y":0.78125,"y2":0.8125,"c":0.797},{"y":0.8125,"y2":0.84375,"c":0.828},{"y":0.84375,"y2":0.875,"c":0.859},{"y":0.875,"y2":0.90625,"c":0.891},{"y":0.90625,"y2":0.9375,"c":0.922},{"y":0.9375,"y2":0.96875,"c":0.953},{"y":0.96875,"y2":1,"c":0.984}
]
},
"hconcat":[
{"width":288,"height":576,
"resolve":{"axis":{"x":"independent","y":"independent"}},
"layer":[
{"data":{"name":"field"},"mark":{"type":"area","orient":"horizontal","interpolate":"monotone","opacity":1},
"encoding":{
"x":{"field":"a","type":"quantitative","scale":{"domain":[0,0.75],"nice":false,"zero":false},"axis":{"orient":"bottom","values":[0,0.25,0.5,0.75],"format":".2f","tickSize":-8,"labelPadding":14,"title":"r (cm)","titlePadding":14}},
"x2":{"field":"b"},
"y":{"field":"z","type":"quantitative","scale":{"domain":[0,9],"nice":false,"zero":false},"axis":{"orient":"left","values":[0,1,2,3,4,5,6,7,8,9],"tickSize":-8,"labelPadding":12,"title":"z (cm)","titlePadding":15}},
"fill":{"field":"v","type":"quantitative","scale":{"scheme":"redyellowblue","domain":[-1,1]},"legend":null},
"detail":{"field":"l"}}},
{"data":{"name":"contours"},"mark":{"type":"line","interpolate":"catmull-rom","strokeWidth":2.4},
"encoding":{
"x":{"field":"r","type":"quantitative","axis":{"orient":"top","values":[0.25,0.5],"tickSize":-8,"labels":false,"title":null}},
"y":{"field":"z","type":"quantitative","axis":{"orient":"right","values":[1,2,3,4,5,6,7,8],"tickSize":-8,"labels":false,"title":null}},
"order":{"field":"i","type":"quantitative"},
"stroke":{"field":"s","type":"nominal","scale":{"domain":["Nucleación","Coagulación","Condensación","HACA","Oxidación O₂","Oxidación OH"],"range":["#ff7f0e","#d62728","#1f77b4","#2ca02c","#9467bd","#000000"]},"legend":null}}},
{"data":{"name":"labels"},"mark":{"type":"text","align":"left","baseline":"middle","fontSize":17.3,"font":"DejaVu Sans","fontWeight":"normal"},
"encoding":{
"x":{"field":"r","type":"quantitative","axis":null},
"y":{"field":"z","type":"quantitative","axis":null},
"text":{"field":"s"},
"color":{"field":"s","type":"nominal","scale":{"domain":["Nucleación","Coagulación","Condensación","HACA","Oxidación O₂","Oxidación OH"],"range":["#ff7f0e","#d62728","#1f77b4","#2ca02c","#9467bd","#000000"]},"legend":null}}}
]},
{"width":23,"height":576,"data":{"name":"bar"},"mark":{"type":"rect"},
"encoding":{
"y":{"field":"y","type":"quantitative","scale":{"domain":[-1,1],"nice":false,"zero":false},"axis":{"orient":"right","values":[-1,1],"labelExpr":"datum.value > 0 ? 'Form.' : 'Oxid.'","tickSize":0,"labelPadding":8,"title":null}},
"y2":{"field":"y2"},
"fill":{"field":"c","type":"quantitative","scale":{"scheme":"redyellowblue","domain":[-1,1]},"legend":null}}}
],
"spacing":1
}
